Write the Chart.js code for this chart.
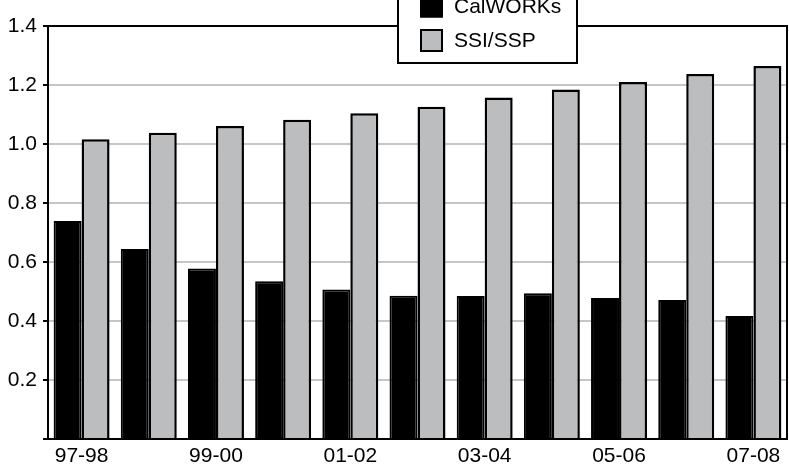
<!DOCTYPE html>
<html>
<head>
<meta charset="utf-8">
<script src="https://cdn.jsdelivr.net/npm/chart.js@4"></script>
<style>
  html, body { margin: 0; padding: 0; background: #fff; }
  #wrap { width: 789px; height: 466px; }
</style>
</head>
<body>
<div id="wrap"><canvas id="chart"></canvas></div>
<script>
// Fiscal years (every other one labelled on the axis)
const years = ['97-98', '98-99', '99-00', '00-01', '01-02', '02-03', '03-04', '04-05', '05-06', '06-07', '07-08'];
const calworks = [0.739, 0.644, 0.578, 0.535, 0.507, 0.486, 0.485, 0.494, 0.478, 0.471, 0.417];
const ssiSsp = [1.016, 1.038, 1.061, 1.082, 1.104, 1.126, 1.158, 1.185, 1.210, 1.237, 1.264];

const FONT = '"Liberation Sans", Arial, Helvetica, sans-serif';
const GREY = '#bcbdbf';

// box around the plot area, drawn over the gridlines
const framePlugin = {
  id: 'frame',
  afterDatasetsDraw(chart) {
    const { ctx, chartArea: a } = chart;
    ctx.save();
    ctx.strokeStyle = '#000';
    ctx.lineWidth = 2;
    ctx.strokeRect(a.left, a.top, a.right - a.left, a.bottom - a.top);
    ctx.restore();
  }
};

// legend box sitting on the top edge of the plot
const legendBox = {
  id: 'legendBox',
  afterDraw(chart) {
    const ctx = chart.ctx;
    ctx.save();
    ctx.fillStyle = '#fff';
    ctx.fillRect(398, -4, 179, 67);
    ctx.strokeStyle = '#000';
    ctx.lineWidth = 2;
    ctx.strokeRect(398, -4, 179, 67);
    const rows = [6, 40.5];
    chart.data.datasets.forEach((ds, i) => {
      const cy = rows[i];
      ctx.fillStyle = ds.backgroundColor;
      ctx.fillRect(420, cy - 11.5, 23, 23);
      ctx.lineWidth = 2;
      ctx.strokeStyle = '#000';
      ctx.strokeRect(421, cy - 10.5, 21, 21);
      ctx.fillStyle = '#000';
      ctx.font = '21px ' + FONT;
      ctx.textBaseline = 'middle';
      ctx.textAlign = 'left';
      ctx.fillText(ds.label, 454, cy + 1);
    });
    ctx.restore();
  }
};

new Chart(document.getElementById('chart'), {
  type: 'bar',
  data: {
    labels: years,
    datasets: [
      { label: 'CalWORKs', data: calworks, backgroundColor: '#000', borderColor: '#000', borderWidth: 2 },
      { label: 'SSI/SSP', data: ssiSsp, backgroundColor: GREY, borderColor: '#000', borderWidth: 2.5 }
    ]
  },
  options: {
    responsive: true,
    maintainAspectRatio: false,
    animation: false,
    categoryPercentage: 0.833,
    barPercentage: 1.0,
    layout: { padding: { top: 26, right: 2, left: 0, bottom: 0 } },
    plugins: { legend: { display: false }, tooltip: { enabled: false } },
    scales: {
      x: {
        grid: { display: false, drawTicks: false },
        border: { display: false },
        ticks: {
          autoSkip: false,
          maxRotation: 0,
          padding: 5,
          color: '#000',
          font: { family: FONT, size: 21 },
          callback: function (v, i) { return i % 2 === 0 ? this.getLabelForValue(v) : ''; }
        },
        afterFit: s => { s.height = 27; }
      },
      y: {
        min: 0,
        max: 1.4,
        grid: { color: '#c6c6c6', lineWidth: 2, tickColor: '#000', tickLength: 5 },
        border: { display: false },
        ticks: {
          stepSize: 0.2,
          padding: 6,
          color: '#000',
          font: { family: FONT, size: 21 },
          callback: v => (v === 0 ? '' : v.toFixed(1))
        },
        afterFit: s => { s.width = 48; }
      }
    }
  },
  plugins: [framePlugin, legendBox]
});
</script>
</body>
</html>
